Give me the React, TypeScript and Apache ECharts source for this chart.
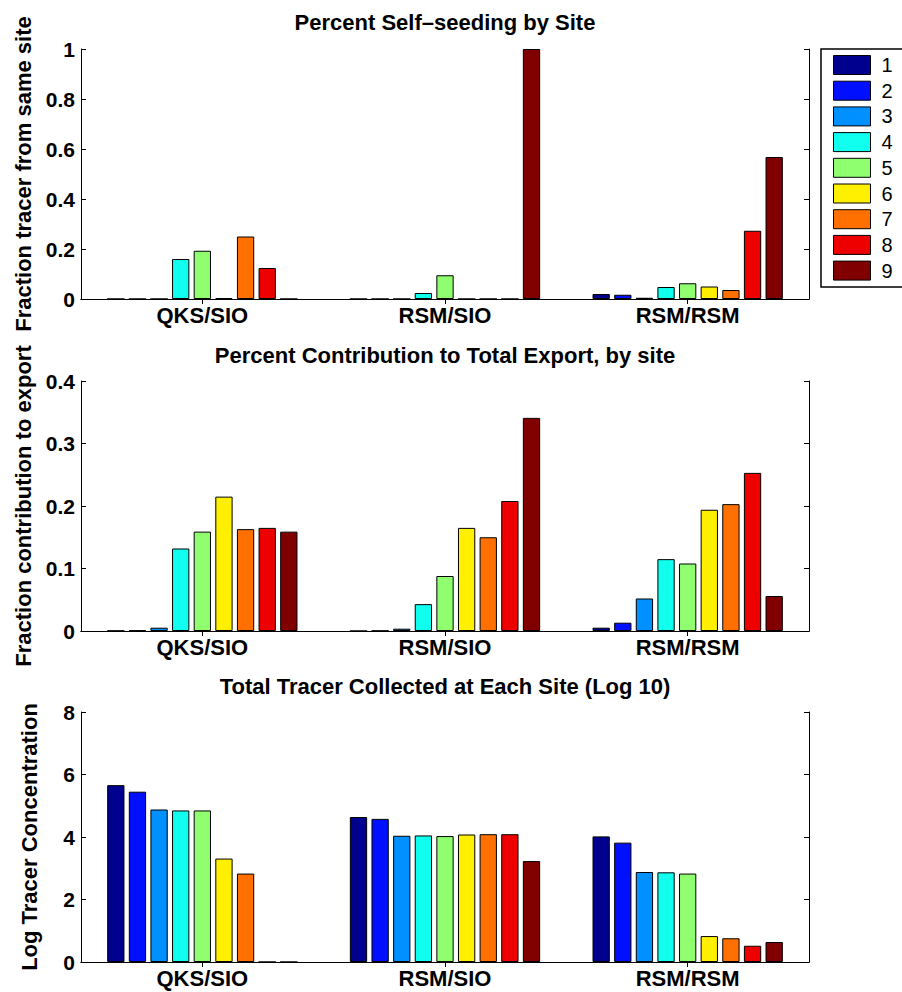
import React, { useEffect, useRef } from "react";
import * as echarts from "echarts";

const categories = ["QKS/SIO", "RSM/SIO", "RSM/RSM"];
const seriesNames = ["1", "2", "3", "4", "5", "6", "7", "8", "9"];
const colors = ["#00008F", "#0010FF", "#0090FF", "#10FFEF", "#8FFF70", "#FFEF00", "#FF7000", "#EF0000", "#800000"];

const titles = [
  "Percent Self–seeding by Site",
  "Percent Contribution to Total Export, by site",
  "Total Tracer Collected at Each Site (Log 10)",
];
const yNames = ["Fraction tracer from same site", "Fraction contribution to export", "Log Tracer Concentration"];
const yMax = [1, 0.4, 8];
const yStep = [0.2, 0.1, 2];

// Panel 1: fraction of tracer from same site (per series 1..9)
const selfQKS = [0, 0, 0, 0.16, 0.193, 0.004, 0.25, 0.124, 0];
const selfRSMSIO = [0, 0, 0, 0.024, 0.095, 0, 0, 0, 1.0];
const selfRSMRSM = [0.02, 0.017, 0.005, 0.048, 0.063, 0.05, 0.036, 0.273, 0.568];

// Panel 2: fraction contribution to export
const expQKS = [0.0005, 0.001, 0.0053, 0.132, 0.159, 0.215, 0.163, 0.165, 0.159];
const expRSMSIO = [0, 0.0005, 0.0037, 0.043, 0.088, 0.165, 0.15, 0.208, 0.341];
const expRSMRSM = [0.0053, 0.0133, 0.052, 0.115, 0.108, 0.194, 0.203, 0.253, 0.056];

// Panel 3: log tracer concentration
const logQKS = [5.66, 5.45, 4.88, 4.85, 4.85, 3.31, 2.83, 0, 0];
const logRSMSIO = [4.64, 4.58, 4.04, 4.05, 4.03, 4.08, 4.09, 4.09, 3.23];
const logRSMRSM = [4.02, 3.82, 2.88, 2.87, 2.83, 0.83, 0.76, 0.52, 0.64];

const panels = [
  [selfQKS, selfRSMSIO, selfRSMRSM],
  [expQKS, expRSMSIO, expRSMRSM],
  [logQKS, logRSMSIO, logRSMRSM],
];

const FONT = "'Liberation Sans', Arial, Helvetica, sans-serif";
const GRID_LEFT = 81;
const GRID_W = 728;
const GRID_H = 250;
const GRID_TOPS = [49, 381, 712];
const TITLE_TOPS = [11, 344, 675];

export default function App() {
  const ref = useRef<HTMLDivElement>(null);
  useEffect(() => {
    if (!ref.current) return;
    const chart = echarts.init(ref.current, null, { renderer: "svg" });
    const line = { show: true, lineStyle: { color: "#000", width: 1 } };
    const grids: any[] = [];
    const xAxes: any[] = [];
    const yAxes: any[] = [];
    const series: any[] = [];
    const titleOpts: any[] = [];
    panels.forEach((panel, p) => {
      grids.push({ left: GRID_LEFT, top: GRID_TOPS[p], width: GRID_W, height: GRID_H, containLabel: false });
      titleOpts.push({
        text: titles[p],
        left: GRID_LEFT + GRID_W / 2,
        top: TITLE_TOPS[p],
        textAlign: "center",
        padding: 0,
        textStyle: { fontFamily: FONT, fontSize: 22, fontWeight: "bold", color: "#000" },
      });
      xAxes.push({
        type: "category",
        gridIndex: p,
        data: categories,
        position: "bottom",
        axisLine: line,
        axisTick: { show: true, inside: true, alignWithLabel: true, length: 5, lineStyle: { color: "#000" } },
        axisLabel: { fontFamily: FONT, fontSize: 22, fontWeight: "bold", color: "#000", margin: 5 },
        splitLine: { show: false },
      });
      xAxes.push({
        type: "category",
        gridIndex: p,
        data: categories,
        position: "top",
        axisLine: line,
        axisTick: { show: true, inside: true, alignWithLabel: true, length: 5, lineStyle: { color: "#000" } },
        axisLabel: { show: false },
        splitLine: { show: false },
      });
      yAxes.push({
        type: "value",
        gridIndex: p,
        min: 0,
        max: yMax[p],
        interval: yStep[p],
        position: "left",
        name: yNames[p],
        nameLocation: "middle",
        nameRotate: 90,
        nameGap: 41,
        nameTextStyle: { fontFamily: FONT, fontSize: 22, fontWeight: "bold", color: "#000" },
        axisLine: line,
        axisTick: { show: true, inside: true, length: 5, lineStyle: { color: "#000" } },
        axisLabel: { fontFamily: FONT, fontSize: 21, fontWeight: "bold", color: "#000", margin: 6 },
        splitLine: { show: false },
      });
      yAxes.push({
        type: "value",
        gridIndex: p,
        min: 0,
        max: yMax[p],
        interval: yStep[p],
        position: "right",
        axisLine: line,
        axisTick: { show: true, inside: true, length: 5, lineStyle: { color: "#000" } },
        axisLabel: { show: false },
        splitLine: { show: false },
      });
      seriesNames.forEach((name, s) => {
        series.push({
          type: "bar",
          name,
          xAxisIndex: p * 2,
          yAxisIndex: p * 2,
          data: panel.map((arr) => arr[s]),
          barWidth: 17.3,
          barGap: "25%",
          itemStyle: { color: colors[s], borderColor: "#000", borderWidth: 1 },
          emphasis: { disabled: true },
        });
      });
    });
    chart.setOption({
      animation: false,
      color: colors,
      title: titleOpts,
      grid: grids,
      xAxis: xAxes,
      yAxis: yAxes,
      series,
      legend: {
        orient: "vertical",
        left: 833,
        top: 55,
        padding: 0,
        itemWidth: 37,
        itemHeight: 19,
        itemGap: 5.7,
        icon: "rect",
        selectedMode: false,
        data: seriesNames,
        itemStyle: { borderColor: "#000", borderWidth: 1 },
        textStyle: { fontFamily: FONT, fontSize: 20, lineHeight: 19, color: "#000", padding: [0, 0, 0, 6] },
      },
      graphic: [
        {
          type: "rect",
          shape: { x: 821, y: 49, width: 100, height: 238 },
          style: { fill: "none", stroke: "#000", lineWidth: 1.5 },
          silent: true,
          z: 10,
        },
      ],
    });
    return () => chart.dispose();
  }, []);
  return <div ref={ref} style={{ position: "absolute", left: 0, top: 0, width: 902, height: 992 }} />;
}
